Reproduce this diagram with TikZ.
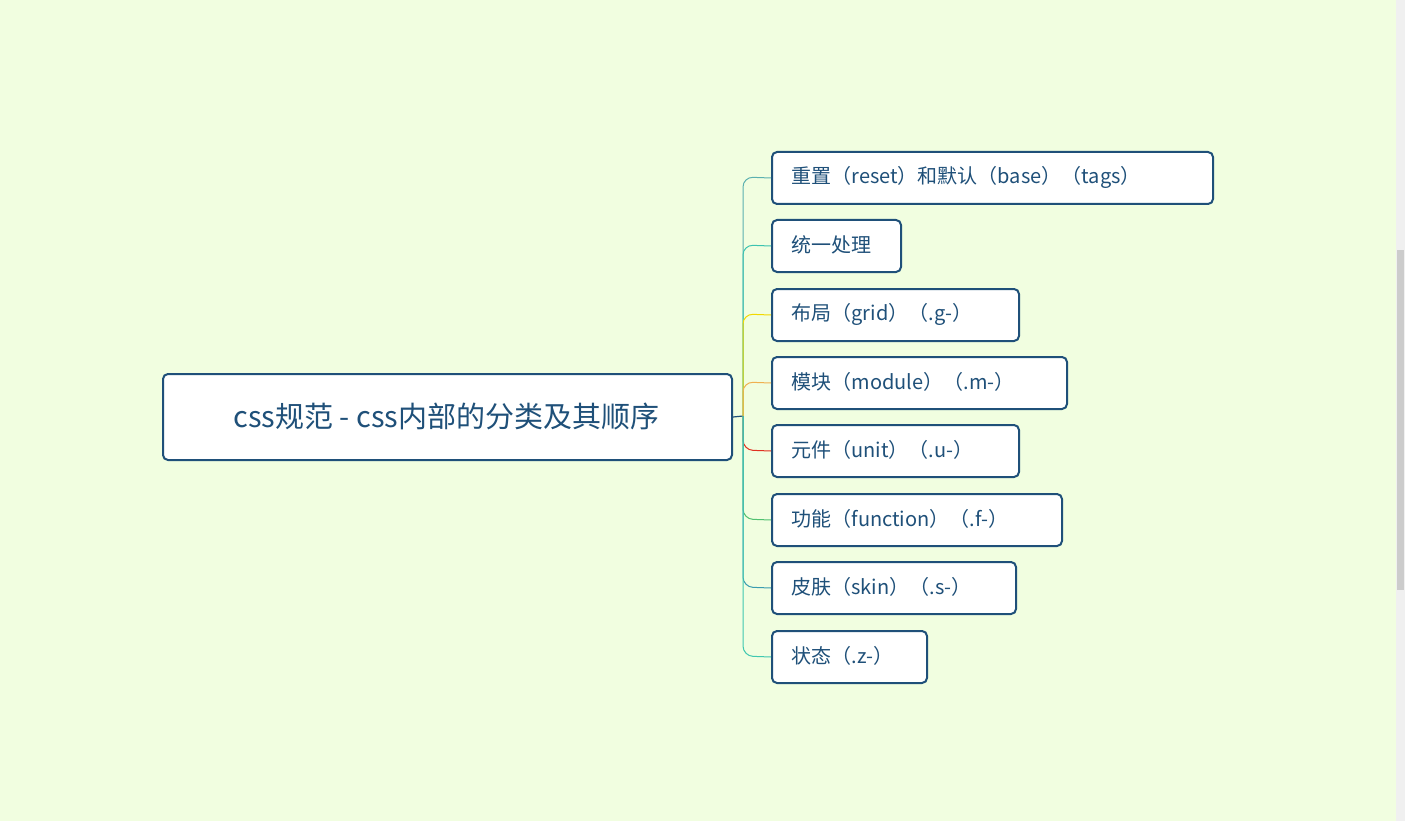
\documentclass[tikz,border=0pt]{standalone}
\usepackage{fontspec}
\setmainfont{Noto Sans CJK SC}
\definecolor{bg}{HTML}{F1FEE0}
\definecolor{bd}{HTML}{1F5079}
\begin{document}
\begin{tikzpicture}[x=1pt,y=-1pt,
  box/.style={draw=bd,line width=2pt,rounded corners=5pt,fill=white,text=bd,anchor=north west,inner sep=0pt,align=left},
  br/.style={line width=1pt,rounded corners=10pt}]
\fill[bg] (0,0) rectangle (1405,821);
\useasboundingbox (0,0) rectangle (1405,821);
\fill[black!6] (1396,0) rectangle (1405,821);
\fill[black!20] (1397,250) rectangle (1404,590);
\node[box,minimum width=569pt,minimum height=86pt,align=center,anchor=north west] (m) at (162,373) {};
\node[text=bd,font=\fontsize{29}{34}\selectfont] (mt) at (446.5,416) {css规范 - css内部的分类及其顺序};
\coordinate (j) at (743,416);
\draw[bd,line width=1.2pt] (m.east) -- (j);
\foreach \n/\y/\r/\c/\t in {
 a/151/1212/5BB0B0/{重置（reset）和默认（base）（tags）},
 b/219/900/3CC3B0/{统一处理},
 c/288/1018/F2D800/{布局（grid）（.g-）},
 d/356/1066/F0B050/{模块（module）（.m-）},
 e/424/1018/E03020/{元件（unit）（.u-）},
 f/493/1061/50C070/{功能（function）（.f-）},
 g/561/1015/3A9CB0/{皮肤（skin）（.s-）},
 h/630/926/40C8B0/{状态（.z-）}}{
 \definecolor{cc}{HTML}{\c}
 \pgfmathsetmacro{\w}{\r-771}
 \node[box,minimum width=\w pt,minimum height=52pt] (\n) at (771,\y) {};
 \node[text=bd,anchor=west,font=\fontsize{20}{24}\selectfont] (\n t) at (788,\y+26) {\t};
 \draw[br,cc] (j) -- (743,\y+26) -- (\n.west);
}
\end{tikzpicture}
\end{document}
